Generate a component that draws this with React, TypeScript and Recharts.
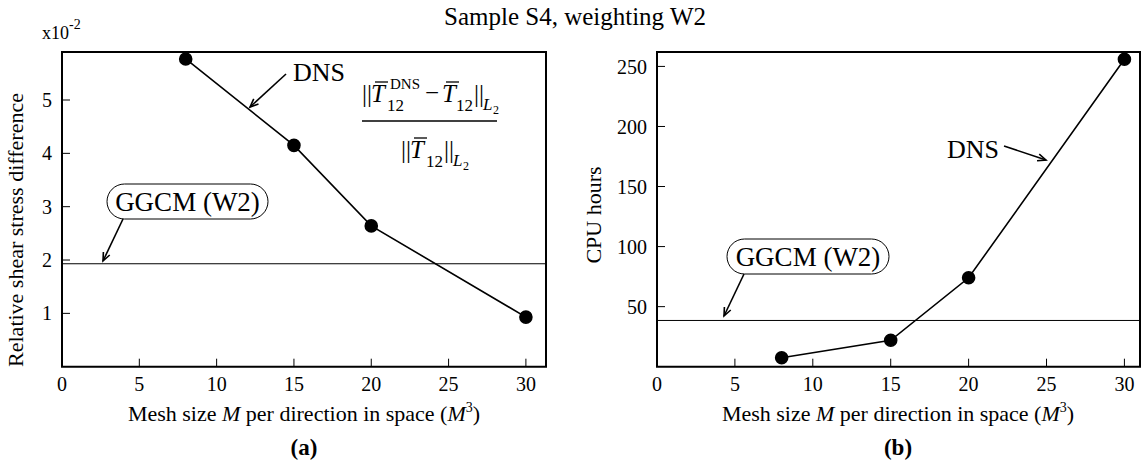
import { Line, LineChart, ReferenceArea, ReferenceLine, XAxis, YAxis } from 'recharts';

// mesh size M per direction
const meshSizes = [8, 15, 20, 30];
// relative shear stress difference (x10^-2), DNS
const shearDiff = [5.77, 4.15, 2.64, 0.93];
// CPU hours, DNS
const cpuHours = [7.5, 22, 74, 256];
// GGCM (W2) levels
const ggcmShear = 1.93;
const ggcmCpu = 38.5;

const xTicks = [0, 5, 10, 15, 20, 25, 30];
const shearTicks = [1, 2, 3, 4, 5];
const cpuTicks = [50, 100, 150, 200, 250];

const shearData = meshSizes.map((m, i) => ({ m, v: shearDiff[i] }));
const cpuData = meshSizes.map((m, i) => ({ m, v: cpuHours[i] }));

const FONT = '"Liberation Serif", "Times New Roman", serif';
const tickStyle = { fill: '#000', fontSize: 20, fontFamily: FONT };

function Arrow({ x1, y1, x2, y2 }: { x1: number; y1: number; x2: number; y2: number }) {
  const a = Math.atan2(y2 - y1, x2 - x1);
  const h = 9;
  const s = 0.4;
  const p1 = [x2 - h * Math.cos(a - s), y2 - h * Math.sin(a - s)];
  const p2 = [x2 - h * Math.cos(a + s), y2 - h * Math.sin(a + s)];
  return (
    <g stroke="#000" strokeWidth={1.6} fill="none">
      <line x1={x1} y1={y1} x2={x2} y2={y2} />
      <polyline points={`${p1[0]},${p1[1]} ${x2},${y2} ${p2[0]},${p2[1]}`} />
    </g>
  );
}

function Pill({ x, y, w, h }: { x: number; y: number; w: number; h: number }) {
  return (
    <g>
      <rect x={x} y={y} width={w} height={h} rx={h / 2} fill="#fff" stroke="#000" strokeWidth={1} />
      <text x={x + w / 2} y={y + h / 2 + 9} textAnchor="middle" fontSize={27} fontFamily={FONT}>
        GGCM (W2)
      </text>
    </g>
  );
}

function MeshLabel({ cx }: { cx: number }) {
  return (
    <text x={cx} y={421} textAnchor="middle" fontSize={22} fontFamily={FONT}>
      Mesh size <tspan fontStyle="italic">M</tspan> per direction in space (<tspan fontStyle="italic">M</tspan>
      <tspan fontSize={14} dy={-9}>3</tspan>
      <tspan dy={9}>)</tspan>
    </text>
  );
}

function Overlay() {
  return (
    <svg
      width={1142}
      height={470}
      style={{ position: 'absolute', left: 0, top: 0, pointerEvents: 'none' }}
      fontFamily={FONT}
    >
      <text x={575} y={25} textAnchor="middle" fontSize={25}>
        Sample S4, weighting W2
      </text>

      {/* left panel */}
      <text x={42} y={39} fontSize={18}>
        x10<tspan fontSize={14} dy={-10}>-2</tspan>
      </text>
      <text x={18} y={230} textAnchor="middle" fontSize={22} transform="rotate(-90 18 230)" dominantBaseline="middle">
        Relative shear stress difference
      </text>
      <text x={293} y={81} fontSize={26}>DNS</text>
      <Arrow x1={286} y1={74} x2={250} y2={107} />
      <Pill x={107} y={184} w={161} h={35} />
      <Arrow x1={123} y1={219} x2={103} y2={261} />

      {/* formula */}
      <g fontSize={25}>
        <text x={362} y={102}>||</text>
        <text x={371} y={102} fontStyle="italic">T</text>
        <line x1={375} x2={388} y1={82} y2={82} stroke="#000" strokeWidth={1.3} />
        <text x={390} y={89} fontSize={15}>DNS</text>
        <text x={387} y={111} fontSize={17}>12</text>
        <text x={425} y={101}>−</text>
        <text x={442} y={102} fontStyle="italic">T</text>
        <line x1={446} x2={459} y1={82} y2={82} stroke="#000" strokeWidth={1.3} />
        <text x={456} y={111} fontSize={17}>12</text>
        <text x={474} y={102}>||</text>
        <text x={483} y={110} fontSize={17} fontStyle="italic">L</text>
        <text x={493} y={114} fontSize={12}>2</text>
        <line x1={362} x2={497} y1={121} y2={121} stroke="#000" strokeWidth={1.5} />
        <text x={401} y={158}>||</text>
        <text x={410} y={158} fontStyle="italic">T</text>
        <line x1={414} x2={427} y1={138} y2={138} stroke="#000" strokeWidth={1.3} />
        <text x={426} y={167} fontSize={17}>12</text>
        <text x={444} y={158}>||</text>
        <text x={453} y={166} fontSize={17} fontStyle="italic">L</text>
        <text x={463} y={170} fontSize={12}>2</text>
      </g>

      <MeshLabel cx={304} />
      <text x={304} y={455} textAnchor="middle" fontSize={23} fontWeight="bold">(a)</text>

      {/* right panel */}
      <text x={596} y={215} textAnchor="middle" fontSize={22} transform="rotate(-90 596 215)" dominantBaseline="middle">
        CPU hours
      </text>
      <text x={947} y={158} fontSize={26}>DNS</text>
      <Arrow x1={1004} y1={146} x2={1046} y2={160} />
      <Pill x={727} y={239} w={162} h={35} />
      <Arrow x1={744} y1={274} x2={724} y2={316} />

      <MeshLabel cx={898} />
      <text x={898} y={455} textAnchor="middle" fontSize={23} fontWeight="bold">(b)</text>
    </svg>
  );
}

export default function App() {
  return (
    <div
      style={{
        position: 'absolute',
        left: 0,
        top: 0,
        width: 1142,
        height: 470,
        background: '#fff',
        fontFamily: FONT,
      }}
    >
      <div style={{ position: 'absolute', left: 0, top: 0 }}>
        <LineChart width={560} height={470} data={shearData} margin={{ top: 52, right: 14, bottom: 73.3, left: 22 }}>
          <XAxis
            dataKey="m"
            type="number"
            domain={[0, 31.3]}
            ticks={xTicks}
            height={30}
            axisLine={false}
            tickSize={-8}
            tickMargin={18}
            tick={tickStyle}
            tickLine={{ stroke: '#000' }}
          />
          <YAxis
            type="number"
            domain={[0, 5.9]}
            ticks={shearTicks}
            width={40}
            axisLine={false}
            tickSize={-8}
            tickMargin={18}
            tick={tickStyle}
            tickLine={{ stroke: '#000' }}
          />
          <ReferenceArea x1={0} x2={31.3} y1={0} y2={5.9} fill="none" stroke="#000" strokeWidth={2} fillOpacity={0} />
          <ReferenceLine y={ggcmShear} stroke="#000" strokeWidth={1} />
          <Line
            dataKey="v"
            stroke="#000"
            strokeWidth={1.6}
            dot={{ r: 6, fill: '#000', stroke: '#000' }}
            isAnimationActive={false}
          />
        </LineChart>
      </div>
      <div style={{ position: 'absolute', left: 560, top: 0 }}>
        <LineChart width={582} height={470} data={cpuData} margin={{ top: 52, right: 2, bottom: 73.3, left: 47 }}>
          <XAxis
            dataKey="m"
            type="number"
            domain={[0, 31]}
            ticks={xTicks}
            height={30}
            axisLine={false}
            tickSize={-8}
            tickMargin={18}
            tick={tickStyle}
            tickLine={{ stroke: '#000' }}
          />
          <YAxis
            type="number"
            domain={[0, 262]}
            ticks={cpuTicks}
            width={50}
            axisLine={false}
            tickSize={-8}
            tickMargin={18}
            tick={tickStyle}
            tickLine={{ stroke: '#000' }}
          />
          <ReferenceArea x1={0} x2={31} y1={0} y2={262} fill="none" stroke="#000" strokeWidth={2} fillOpacity={0} />
          <ReferenceLine y={ggcmCpu} stroke="#000" strokeWidth={1} />
          <Line
            dataKey="v"
            stroke="#000"
            strokeWidth={1.6}
            dot={{ r: 6, fill: '#000', stroke: '#000' }}
            isAnimationActive={false}
          />
        </LineChart>
      </div>
      <Overlay />
    </div>
  );
}
